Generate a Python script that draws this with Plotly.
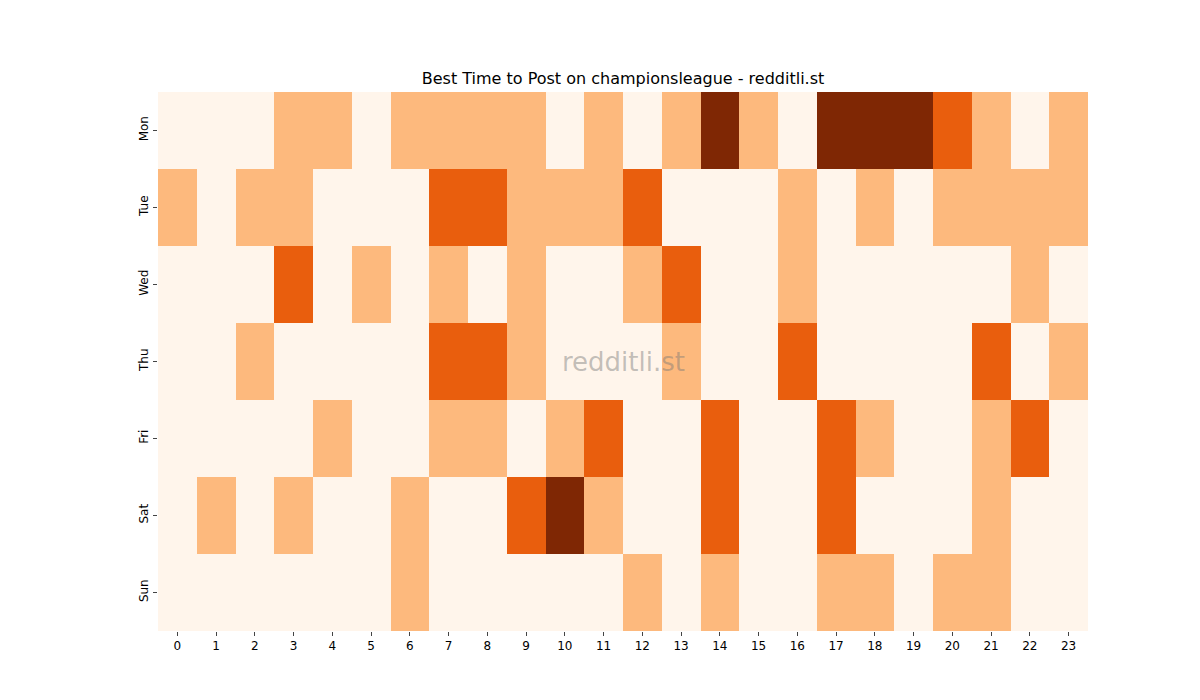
import plotly.graph_objects as go

days = ["Mon", "Tue", "Wed", "Thu", "Fri", "Sat", "Sun"]
hours = list(range(24))

mon = [0, 0, 0, 1, 1, 0, 1, 1, 1, 1, 0, 1, 0, 1, 3, 1, 0, 3, 3, 3, 2, 1, 0, 1]
tue = [1, 0, 1, 1, 0, 0, 0, 2, 2, 1, 1, 1, 2, 0, 0, 0, 1, 0, 1, 0, 1, 1, 1, 1]
wed = [0, 0, 0, 2, 0, 1, 0, 1, 0, 1, 0, 0, 1, 2, 0, 0, 1, 0, 0, 0, 0, 0, 1, 0]
thu = [0, 0, 1, 0, 0, 0, 0, 2, 2, 1, 0, 0, 0, 1, 0, 0, 2, 0, 0, 0, 0, 2, 0, 1]
fri = [0, 0, 0, 0, 1, 0, 0, 1, 1, 0, 1, 2, 0, 0, 2, 0, 0, 2, 1, 0, 0, 1, 2, 0]
sat = [0, 1, 0, 1, 0, 0, 1, 0, 0, 2, 3, 1, 0, 0, 2, 0, 0, 2, 0, 0, 0, 1, 0, 0]
sun = [0, 0, 0, 0, 0, 0, 1, 0, 0, 0, 0, 0, 1, 0, 1, 0, 0, 1, 1, 0, 1, 1, 0, 0]

z = [mon, tue, wed, thu, fri, sat, sun]

colors = ["#fff5eb", "#fdb97d", "#e95e0d", "#7f2704"]
scale = []
for i, c in enumerate(colors):
    scale.append([i / 4, c])
    scale.append([(i + 1) / 4, c])

fig = go.Figure(go.Heatmap(
    z=z, x=hours, y=days,
    colorscale=scale, zmin=-0.5, zmax=3.5,
    showscale=False, xgap=0, ygap=0
))

fig.update_layout(
    width=1200, height=700,
    margin=dict(l=150, r=120, t=84, b=77),
    plot_bgcolor="white", paper_bgcolor="white",
    font=dict(family="DejaVu Sans", size=12, color="black"),
    title=dict(text="Best Time to Post on championsleague - redditli.st",
               x=0.5 * (150 + 1080) / 1200, xanchor="center",
               y=1 - 70 / 700, yanchor="middle", font=dict(size=16)),
    xaxis=dict(tickmode="array", tickvals=hours, ticks="outside",
               ticklen=4, showgrid=False, zeroline=False),
    yaxis=dict(autorange="reversed", ticks="outside", ticklen=4,
               tickangle=-90, showgrid=False, zeroline=False),
    annotations=[dict(text="redditli.st", x=0.5, y=0.5, xref="paper", yref="paper",
                      showarrow=False, font=dict(size=26, color="rgba(120,120,120,0.45)"))]
)

fig.write_html("out.html")
